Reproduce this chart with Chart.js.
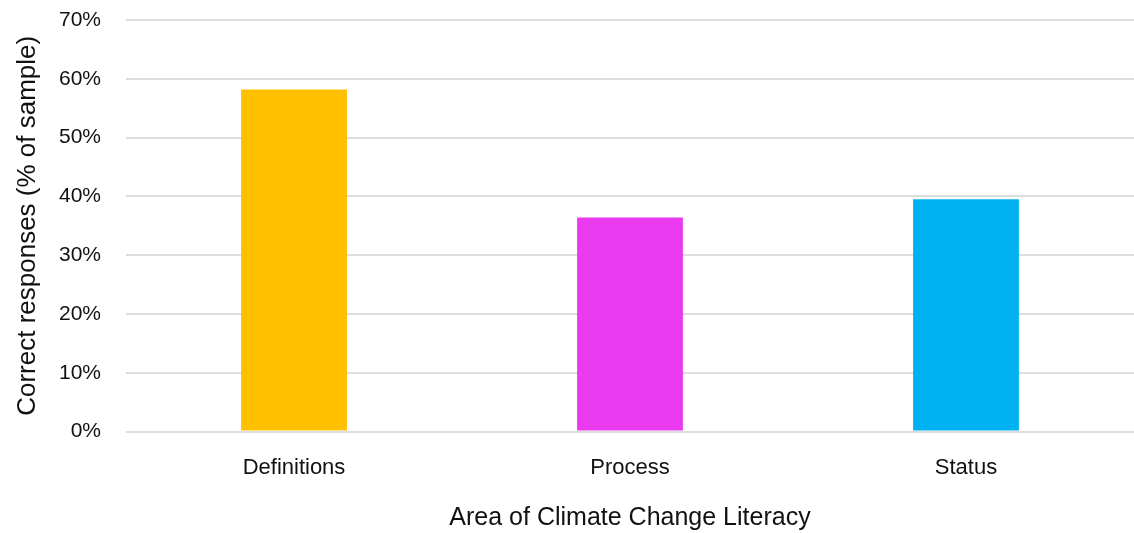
<!DOCTYPE html>
<html>
<head>
<meta charset="utf-8">
<script src="https://cdn.jsdelivr.net/npm/chart.js@4/dist/chart.umd.min.js"></script>
<style>
  html, body { margin: 0; padding: 0; background: #fff; }
  #chart { display: block; }
</style>
</head>
<body>
<canvas id="chart" width="1134" height="533"></canvas>
<script>
// values
const categories = ['Definitions', 'Process', 'Status'];
const correctPct = [58.2, 36.4, 39.5];
const barColors = ['#FFC000', '#EA3AF0', '#00B1F1'];
const yTicks = [0, 10, 20, 30, 40, 50, 60, 70];

const FONT = '"Liberation Sans", Arial, Helvetica, sans-serif';

const ctx = document.getElementById('chart').getContext('2d');
const chart = new Chart(ctx, {
    type: 'bar',
    data: {
        labels: categories,
        datasets: [{
            data: correctPct,
            backgroundColor: barColors,
            borderWidth: 0,
            categoryPercentage: 1,
            barPercentage: 0.315
        }]
    },
    options: {
        responsive: false,
        animation: false,
        // plot runs slightly past the right edge in the reference
        layout: { padding: { top: 0, right: -6, left: 12, bottom: 0 } },
        plugins: {
            legend: { display: false },
            tooltip: { enabled: false }
        },
        scales: {
            x: {
                grid: { display: false },
                border: { display: false },
                ticks: {
                    color: '#111',
                    font: { family: FONT, size: 22 },
                    padding: 15
                },
                title: {
                    display: true,
                    text: 'Area of Climate Change Literacy',
                    color: '#111',
                    font: { family: FONT, size: 25 },
                    padding: { top: 7, bottom: 0 }
                }
            },
            y: {
                min: 0,
                max: 70,
                afterBuildTicks: (axis) => {
                    axis.ticks = yTicks.map(v => ({ value: v }));
                },
                afterFit: (axis) => {
                    // plot area starts at x=126, top gridline at y=20
                    axis.width = 114;
                    axis.paddingTop = 20;
                },
                grid: {
                    color: '#dddddd',
                    lineWidth: 2,
                    drawTicks: false
                },
                border: { display: false },
                ticks: {
                    color: '#111',
                    font: { family: FONT, size: 21 },
                    padding: 25,
                    callback: (v) => v + '%'
                },
                title: {
                    display: true,
                    text: 'Correct responses (% of sample)',
                    color: '#111',
                    font: { family: FONT, size: 26 },
                    padding: { top: 0, bottom: 16 }
                }
            }
        }
    }
});
</script>
</body>
</html>
